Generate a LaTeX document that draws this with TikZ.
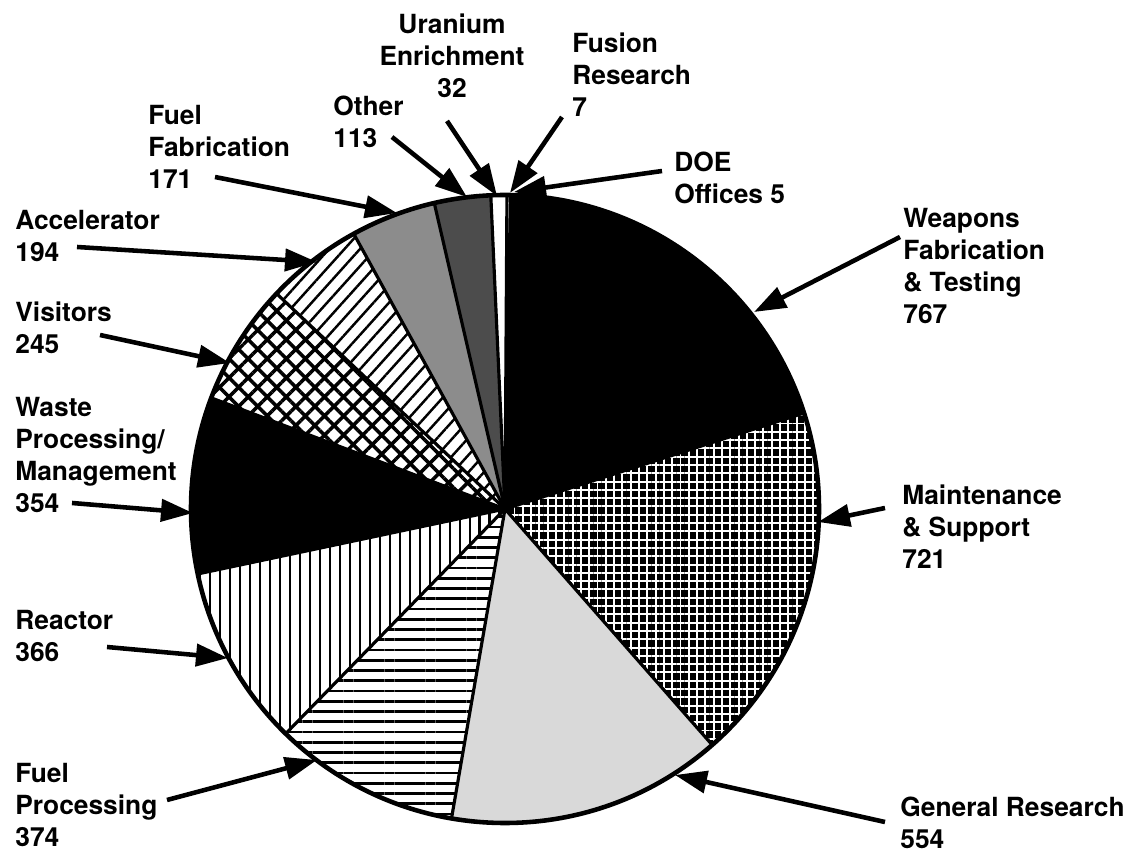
\documentclass[tikz,border=0pt]{standalone}
\usepackage{fontspec}
\setmainfont{TeX Gyre Heros}
\usetikzlibrary{arrows.meta,patterns.meta}
\begin{document}
\begin{tikzpicture}[x=0.02cm,y=0.02cm,
	lbl/.style={font=\fontsize{15}{18.2}\selectfont\bfseries,align=left,inner sep=0pt,anchor=north west},
	arr/.style={line width=2.6pt,-{Triangle[length=0.64cm,width=0.44cm]}},
	sep/.style={line width=1.8pt},
	blank/.style={fill=white},
	wpn/.style={fill=black},
	mnt/.style={fill=black,postaction={pattern={Hatch[angle=0,distance=0.166cm,line width=1.1pt]},pattern color=white}},
	gen/.style={fill=black!15},
	fpr/.style={pattern={Lines[angle=0,distance=0.205cm,line width=1.6pt]}},
	rct/.style={pattern={Lines[angle=90,distance=0.2cm,line width=1.6pt]}},
	wst/.style={fill=black},
	vis/.style={pattern={Hatch[angle=45,distance=0.27cm,line width=2pt]}},
	acc/.style={pattern={Lines[angle=48,distance=0.23cm,line width=1.4pt]}},
	ffb/.style={fill=black!45},
	oth/.style={fill=black!70}]
\fill[white] (0,0) rectangle (1128,855);
\useasboundingbox (0,0) rectangle (1128,855);
\coordinate (c) at (505,346);
\begin{scope}[shift={(c)}]
\foreach \s/\e/\k in {89/88.539/blank,88.539/17.793/wpn,17.793/-48.710/mnt,-48.710/-99.809/gen,
	-99.809/-134.306/fpr,-134.306/-168.065/rct,-168.065/-200.717/wst,-200.717/-223.315/vis,
	-223.315/-241.209/acc,-241.209/-256.982/ffb,-256.982/-267.405/oth,-267.405/-270.357/blank,
	-270.357/-271/blank}
	\fill[\k] (0,0) -- (\s:314) arc[start angle=\s,end angle=\e,radius=314] -- cycle;
\foreach \a in {89,88.539,17.793,-48.710,-99.809,-134.306,-168.065,-200.717,-223.315,
	-241.209,-256.982,-267.405,-270.357}
	\draw[sep] (0,0) -- (\a:314);
\draw[line width=2.6pt] (0,0) circle[radius=314];
\end{scope}

\node[lbl,align=center,anchor=north] (uranium) at (452,841) {Uranium\\Enrichment\\32};
\node[lbl] (fusion) at (572,822) {Fusion\\Research\\7};
\node[lbl] (doe) at (674,703) {DOE\\Offices 5};
\node[lbl] (other) at (333,759) {Other\\113};
\node[lbl] (fuelfab) at (148,750) {Fuel\\Fabrication\\171};
\node[lbl] (accel) at (15,645) {Accelerator\\194};
\node[lbl] (visitors) at (15,553) {Visitors\\245};
\node[lbl] (waste) at (15,458) {Waste\\Processing/\\Management\\354};
\node[lbl] (reactor) at (15,245) {Reactor\\366};
\node[lbl] (fuelproc) at (15,92) {Fuel\\Processing\\374};
\node[lbl] (genres) at (900,58) {General Research\\554};
\node[lbl] (maint) at (902,370) {Maintenance\\\& Support\\721};
\node[lbl] (weapons) at (903,647) {Weapons\\Fabrication\\\& Testing\\767};

\coordinate (ura-t) at (447,734); \coordinate (ura-h) at (497,659);
\coordinate (fus-t) at (562,738); \coordinate (fus-h) at (510,662);
\coordinate (doe-t) at (662,684); \coordinate (doe-h) at (514,663);
\coordinate (oth-t) at (392,718); \coordinate (oth-h) at (467,658);
\coordinate (ffb-t) at (215,678); \coordinate (ffb-h) at (397,642);
\coordinate (acc-t) at (77,608); \coordinate (acc-h) at (317,593);
\coordinate (vis-t) at (100,520); \coordinate (vis-h) at (230,492);
\coordinate (wst-t) at (72,352); \coordinate (wst-h) at (193,342);
\coordinate (rct-t) at (107,208); \coordinate (rct-h) at (228,197);
\coordinate (fpr-t) at (167,55); \coordinate (fpr-h) at (317,95);
\coordinate (gen-t) at (885,33); \coordinate (gen-h) at (675,80);
\coordinate (mnt-t) at (885,347); \coordinate (mnt-h) at (818,333);
\coordinate (wpn-t) at (900,618); \coordinate (wpn-h) at (754,543);
\foreach \n in {ura,fus,doe,oth,ffb,acc,vis,wst,rct,fpr,gen,mnt,wpn}
	\draw[arr] (\n-t) -- (\n-h);
\end{tikzpicture}
\end{document}
